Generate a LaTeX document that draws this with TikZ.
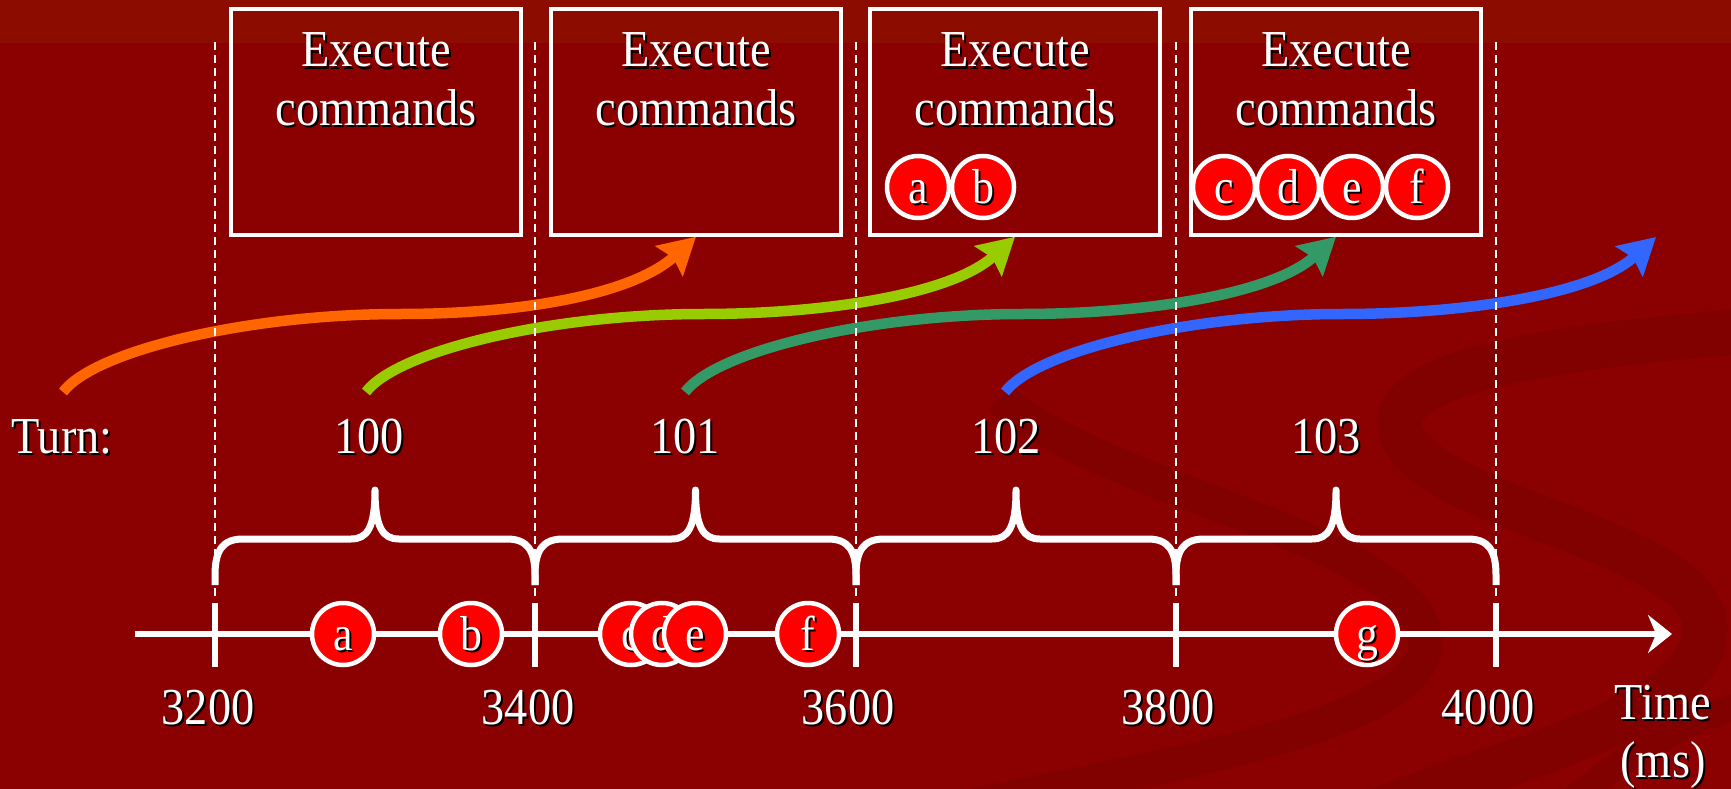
\documentclass[tikz,border=0pt]{standalone}
\usepackage{fontspec}
\setmainfont{Liberation Serif}
\usetikzlibrary{arrows.meta,calc}
\definecolor{bgred}{RGB}{139,0,0}
\definecolor{bgtop}{RGB}{140,12,0}
\definecolor{bgdark}{RGB}{129,0,0}
\definecolor{dotred}{RGB}{255,0,0}
\definecolor{arrOrange}{RGB}{255,102,0}
\definecolor{arrLime}{RGB}{153,204,0}
\definecolor{arrGreen}{RGB}{51,153,102}
\definecolor{arrBlue}{RGB}{51,102,255}
\newcommand{\shd}[1]{\scalebox{1}[1.12]{\leavevmode\rlap{\kern2bp\raisebox{-2bp}{\color{black}#1}}#1}}
\begin{document}
\begin{tikzpicture}[x=1bp,y=-1bp,
  txt/.style={text=white,font=\fontsize{46.5}{58}\selectfont,inner sep=0pt},
  cmdbox/.style={draw=white,line width=3.5bp,minimum width=290bp,minimum height=226bp,inner sep=0pt},
  dot/.style={circle,fill=dotred,draw=white,line width=4.5bp,minimum size=62bp,inner sep=0pt,text=white,font=\fontsize{44}{50}\selectfont,text height=33bp,text depth=0pt},
  guide/.style={draw=white,line width=2bp,dash pattern=on 8bp off 5bp},
  turnarrow/.style={line width=10.5bp,-{Stealth[length=36bp,width=40bp,inset=5bp]}},
  bracepath/.style={draw=white,line width=7bp,line join=round},
  axisline/.style={draw=white,line width=6.5bp,-{Stealth[length=24bp,width=38bp,inset=8bp]}},
  tickmark/.style={draw=white,line width=6.5bp},
  swoosh/.style={draw=bgdark}
]
\useasboundingbox (0,0) rectangle (1731,789);
% background
\fill[bgred] (0,0) rectangle (1731,789);
\fill[bgtop] (0,0) rectangle (1731,43);
\draw[swoosh,line width=34bp] (1000,398) .. controls (1100,490) and (1420,540) .. (1425,640) .. controls (1430,720) and (1200,760) .. (950,810);
\draw[swoosh,line width=45bp] (1760,330) .. controls (1500,350) and (1390,380) .. (1400,430) .. controls (1420,510) and (1710,540) .. (1705,630) .. controls (1700,720) and (1500,760) .. (1380,810);
\draw[swoosh,line width=26bp] (1560,810) .. controls (1620,760) and (1680,720) .. (1760,700);

% command boxes
\node[cmdbox] (box1) at (376,122) {};
\node[cmdbox] (box2) at (696,122) {};
\node[cmdbox] (box3) at (1015,122) {};
\node[cmdbox] (box4) at (1336,122) {};
\foreach \i/\x in {1/376,2/696,3/1015,4/1336}{
  \node[txt,anchor=base] (exe\i) at (\x,67) {\shd{Execute}};
  \node[txt,anchor=base] (cmd\i) at (\x,125) {\shd{commands}};
}
\node[dot] (ba) at (918,187) {\shd{a}};
\node[dot] (bb) at (983,187) {\shd{b}};
\node[dot] (bc) at (1224,187) {\shd{c}};
\node[dot] (bd) at (1288,187) {\shd{d}};
\node[dot] (be) at (1352,187) {\shd{e}};
\node[dot] (bf) at (1417,187) {\shd{f}};

% turn arrows
\coordinate (s1) at (63,392);
\coordinate (s2) at (366,392);
\coordinate (s3) at (685,392);
\coordinate (s4) at (1005,392);
\coordinate (t5) at (1656,237);
\draw[turnarrow,arrOrange] (s1) .. controls ($(s1)+(32,-42)$) and ($(s1)+(187,-78)$) .. ($(s1)+(337,-78)$) .. controls ($(s1)+(457,-78)$) and ($(box2.south)+(-64,58)$) .. (box2.south);
\draw[turnarrow,arrLime] (s2) .. controls ($(s2)+(32,-42)$) and ($(s2)+(187,-78)$) .. ($(s2)+(337,-78)$) .. controls ($(s2)+(457,-78)$) and ($(box3.south)+(-64,58)$) .. (box3.south);
\draw[turnarrow,arrGreen] (s3) .. controls ($(s3)+(32,-42)$) and ($(s3)+(187,-78)$) .. ($(s3)+(337,-78)$) .. controls ($(s3)+(457,-78)$) and ($(box4.south)+(-64,58)$) .. (box4.south);
\draw[turnarrow,arrBlue] (s4) .. controls ($(s4)+(32,-42)$) and ($(s4)+(187,-78)$) .. ($(s4)+(337,-78)$) .. controls ($(s4)+(457,-78)$) and ($(t5)+(-64,58)$) .. (t5);

% dashed guides
\foreach \x in {215,535,856,1176,1496}{
  \draw[guide] (\x,42) -- (\x,598);
}

% braces
\foreach \xa/\xb in {215/535,535/856,856/1176,1176/1496}{
  \pgfmathsetmacro\xc{(\xa+\xb)/2}
  \draw[bracepath] (\xa,585) -- (\xa,575) .. controls (\xa,550) and ({\xa+8},539) .. ({\xa+28},539) -- ({\xc-24},539) .. controls ({\xc-8},539) and (\xc,528) .. (\xc,490) .. controls (\xc,528) and ({\xc+8},539) .. ({\xc+24},539) -- ({\xb-28},539) .. controls ({\xb-8},539) and (\xb,550) .. (\xb,575) -- (\xb,585);
}

% turn labels
\node[txt,anchor=base west] (turn) at (11,453) {\shd{Turn:}};
\node[txt,anchor=base] (n100) at (369,453) {\shd{100}};
\node[txt,anchor=base] (n101) at (685,453) {\shd{101}};
\node[txt,anchor=base] (n102) at (1006,453) {\shd{102}};
\node[txt,anchor=base] (n103) at (1326,453) {\shd{103}};

% axis
\coordinate (axs) at (135,634);
\coordinate (axe) at (1672,634);
\draw[axisline] (axs) -- (axe);
\foreach \x in {215,535,856,1176,1496}{
  \draw[tickmark] (\x,603) -- (\x,667);
}
\node[dot] (da) at (343,634) {\shd{a}};
\node[dot] (db) at (471,634) {\shd{b}};
\node[dot] (dc) at (631,634) {\shd{c}};
\node[dot] (dd) at (662,634) {\shd{d}};
\node[dot] (de) at (695,634) {\shd{e}};
\node[dot] (df) at (808,634) {\shd{f}};
\node[dot] (dg) at (1367,634) {\shd{g}};

% time labels
\node[txt,anchor=base] (m3200) at (208,724) {\shd{3200}};
\node[txt,anchor=base] (m3400) at (528,724) {\shd{3400}};
\node[txt,anchor=base] (m3600) at (848,724) {\shd{3600}};
\node[txt,anchor=base] (m3800) at (1168,724) {\shd{3800}};
\node[txt,anchor=base] (m4000) at (1488,724) {\shd{4000}};
\node[txt,anchor=base] (time) at (1663,719) {\shd{Time}};
\node[txt,anchor=base] (ms) at (1663,777) {\shd{(ms)}};
\end{tikzpicture}
\end{document}
